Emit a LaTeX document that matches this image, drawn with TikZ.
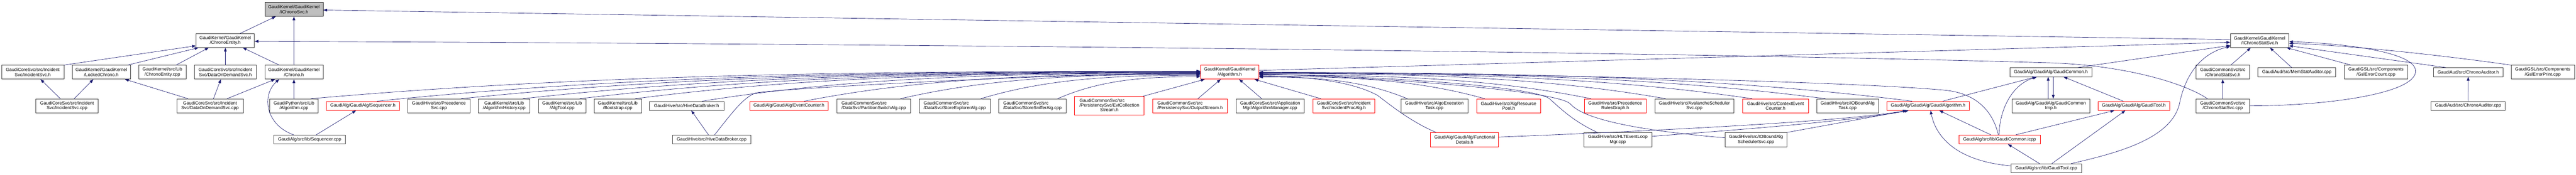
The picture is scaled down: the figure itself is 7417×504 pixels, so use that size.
\documentclass[tikz,border=0pt]{standalone}
\usepackage{fontspec}
\setmainfont{Liberation Sans}
\usetikzlibrary{arrows.meta,calc}
\definecolor{edgeblue}{HTML}{191970}
\definecolor{boxgray}{HTML}{404040}
\definecolor{boxred}{HTML}{FF0000}
\definecolor{rootfill}{HTML}{BFBFBF}
\newcommand\gnfont{\fontsize{13}{14}\selectfont}
\newcommand\fanedge[2]{\draw[edge] let \p1=(#1), \p2=(#2) in (\p1) .. controls ({\x1+0.3*(\x2-\x1)},{\y1+0.85*(\y2-\y1)}) and ({\x2-0.4*(\x2-\x1)},\y2) .. (\p2);}
\tikzset{
  nbox/.style={draw=boxgray, line width=1pt, inner sep=0pt, align=center, font=\gnfont, text=black, fill=white},
  rbox/.style={nbox, draw=boxred},
  lbox/.style={nbox, align=left},
  two/.style={minimum height=40pt},
  one/.style={minimum height=26pt},
  edge/.style={draw=edgeblue, line width=1pt, -{Triangle[length=11pt,width=8pt]}},
}
\begin{document}
\begin{tikzpicture}[x=1pt,y=1pt]
\fill[white] (0,0) rectangle (7417,-504);
\useasboundingbox (0,0) rectangle (7417,-504);

% ---------- nodes ----------
\node[nbox,two,minimum width=179pt] (isvch) at (94.2,-208) {GaudiCoreSvc/src/Incident\\Svc/IncidentSvc.h};
\node[nbox,two,minimum width=167.5pt] (lockc) at (291.7,-208) {GaudiKernel/GaudiKernel\\/LockedChrono.h};
\node[nbox,two,minimum width=136pt] (cecpp) at (467.6,-208) {GaudiKernel/src/Lib\\/ChronoEntity.cpp};
\node[nbox,two,minimum width=179pt] (dodh) at (648.9,-208) {GaudiCoreSvc/src/Incident\\Svc/DataOnDemandSvc.h};
\node[nbox,two,minimum width=179pt] (isvcpp) at (193,-305) {GaudiCoreSvc/src/Incident\\Svc/IncidentSvc.cpp};
\node[nbox,two,minimum width=191pt] (dodcpp) at (604.6,-305) {GaudiCoreSvc/src/Incident\\Svc/DataOnDemandSvc.cpp};
\node[nbox,two,minimum width=168pt] (ceh) at (648.5,-117) {GaudiKernel/GaudiKernel\\/ChronoEntity.h};
\node[nbox,two,minimum width=168pt,draw=black,fill=rootfill] (icsvc) at (846.3,-27) {GaudiKernel/GaudiKernel\\/IChronoSvc.h};
\node[nbox,two,minimum width=168pt] (chrono) at (846.3,-208) {GaudiKernel/GaudiKernel\\/Chrono.h};
\node[nbox,two,minimum width=140pt] (pyalg) at (846.3,-305) {GaudiPython/src/Lib\\/Algorithm.cpp};
\node[rbox,one,minimum width=209.5pt] (seqh) at (1044.8,-305) {GaudiAlg/GaudiAlg/Sequencer.h};
\node[nbox,one,minimum width=205.5pt] (seqcpp) at (891.6,-402) {GaudiAlg/src/lib/Sequencer.cpp};
\node[nbox,two,minimum width=179pt] (precsvc) at (1263.6,-305) {GaudiHive/src/Precedence\\Svc.cpp};
\node[nbox,two,minimum width=148pt] (alghist) at (1451.6,-305) {GaudiKernel/src/Lib\\/AlgorithmHistory.cpp};
\node[nbox,two,minimum width=136.4pt] (algtool) at (1618.4,-305) {GaudiKernel/src/Lib\\/AlgTool.cpp};
\node[nbox,two,minimum width=136.4pt] (bootstrap) at (1778.5,-305) {GaudiKernel/src/Lib\\/Bootstrap.cpp};
\node[nbox,one,minimum width=214.2pt] (hdbh) at (1976.9,-305) {GaudiHive/src/HiveDataBroker.h};
\node[nbox,one,minimum width=226.5pt] (hdbcpp) at (2049,-402) {GaudiHive/src/HiveDataBroker.cpp};
\node[rbox,one,minimum width=226.5pt] (evcnt) at (2271.6,-305) {GaudiAlg/GaudiAlg/EventCounter.h};
\node[lbox,two,minimum width=213pt] (partsw) at (2515.8,-305) {GaudiCommonSvc/src\\/DataSvc/PartitionSwitchAlg.cpp};
\node[lbox,two,minimum width=204pt] (storeexp) at (2749,-305) {GaudiCommonSvc/src\\/DataSvc/StoreExplorerAlg.cpp};
\node[lbox,two,minimum width=195pt] (storesnf) at (2972.6,-305) {GaudiCommonSvc/src\\/DataSvc/StoreSnifferAlg.cpp};
\node[rbox,minimum height=54pt,minimum width=200.3pt] (evtcoll) at (3194.1,-305) {\begin{tabular}{@{}l@{}}GaudiCommonSvc/src\\/PersistencySvc/EvtCollection\\\multicolumn{1}{@{}c@{}}{Stream.h}\end{tabular}};
\node[rbox,two,align=left,minimum width=214.3pt] (outstr) at (3426.4,-305) {GaudiCommonSvc/src\\/PersistencySvc/OutputStream.h};
\node[rbox,two,minimum width=168pt] (alg) at (3540.8,-208) {GaudiKernel/GaudiKernel\\/Algorithm.h};
\node[nbox,two,minimum width=197pt] (algmgr) at (3656.9,-305) {GaudiCoreSvc/src/Application\\Mgr/AlgorithmManager.cpp};
\node[rbox,two,minimum width=178.3pt] (incproc) at (3869,-305) {GaudiCoreSvc/src/Incident\\Svc/IncidentProcAlg.h};
\node[nbox,two,minimum width=193.7pt] (algoexec) at (4130.1,-305) {GaudiHive/src/AlgoExecution\\Task.cpp};
\node[rbox,two,minimum width=184.4pt] (algres) at (4343.7,-305) {GaudiHive/src/AlgResource\\Pool.h};
\node[rbox,minimum height=41pt,minimum width=195.6pt] (funcdet) at (4216.9,-402.5) {GaudiAlg/GaudiAlg/Functional\\Details.h};
\node[rbox,two,minimum width=178.6pt] (precrg) at (4650.5,-305) {GaudiHive/src/Precedence\\RulesGraph.h};
\node[nbox,two,minimum width=227.5pt] (avalanche) at (4878.5,-305) {GaudiHive/src/AvalancheScheduler\\Svc.cpp};
\node[nbox,minimum height=41pt,minimum width=195.6pt] (hltelm) at (4658.2,-402.5) {GaudiHive/src/HLTEventLoop\\Mgr.cpp};
\node[rbox,two,minimum width=189.7pt] (ctxevc) at (5112,-305) {GaudiHive/src/ContextEvent\\Counter.h};
\node[nbox,two,minimum width=179pt] (iobtask) at (5319.7,-305) {GaudiHive/src/IOBoundAlg\\Task.cpp};
\node[rbox,one,minimum width=236.6pt] (gaudialgh) at (5551.6,-305) {GaudiAlg/GaudiAlg/GaudiAlgorithm.h};
\node[nbox,minimum height=41pt,minimum width=179pt] (iobsched) at (5056,-402.5) {GaudiHive/src/IOBoundAlg\\SchedulerSvc.cpp};
\node[nbox,one,minimum width=235.2pt] (gcomh) at (5904.9,-208) {GaudiAlg/GaudiAlg/GaudiCommon.h};
\node[nbox,two,minimum width=223.3pt] (gcomimp) at (5904.9,-305) {GaudiAlg/GaudiAlg/GaudiCommon\\Imp.h};
\node[rbox,one,minimum width=207pt] (gtoolh) at (6143.8,-305) {GaudiAlg/GaudiAlg/GaudiTool.h};
\node[rbox,one,minimum width=234pt] (gcomicpp) at (5757.3,-402) {GaudiAlg/src/lib/GaudiCommon.icpp};
\node[nbox,one,minimum width=202.3pt] (gtoolcpp) at (5891.7,-485) {GaudiAlg/src/lib/GaudiTool.cpp};
\node[nbox,two,minimum width=168.4pt] (icssvc) at (6506.1,-117) {GaudiKernel/GaudiKernel\\/IChronoStatSvc.h};
\node[nbox,two,minimum width=155pt] (cssvch) at (6399.8,-208) {GaudiCommonSvc/src\\/ChronoStatSvc.h};
\node[nbox,one,minimum width=223.7pt] (memstat) at (6612.9,-208) {GaudiAud/src/MemStatAuditor.cpp};
\node[nbox,two,minimum width=183.4pt] (gslcnt) at (6840.9,-208) {GaudiGSL/src/Components\\/GslErrorCount.cpp};
\node[nbox,two,minimum width=155pt] (cssvccpp) at (6399.8,-305) {GaudiCommonSvc/src\\/ChronoStatSvc.cpp};
\node[nbox,one,minimum width=199.2pt] (chaudh) at (7106.5,-208) {GaudiAud/src/ChronoAuditor.h};
\node[nbox,one,minimum width=213.8pt] (chaudcpp) at (7106.3,-305) {GaudiAud/src/ChronoAuditor.cpp};
\node[nbox,two,minimum width=182.6pt] (gslprint) at (7321.1,-208) {GaudiGSL/src/Components\\/GslErrorPrint.cpp};

% ---------- left cluster ----------
\draw[edge] (isvch.north east) -- ([yshift=-15pt]ceh.west);
\draw[edge] ([xshift=76pt]lockc.north) -- ([xshift=-77pt]ceh.south);
\draw[edge] ([xshift=39.5pt]cecpp.north) -- ([xshift=-47.7pt]ceh.south);
\draw[edge] ([xshift=42.6pt]ceh.north) -- ([xshift=-52.4pt]icsvc.south);
\draw[edge] (dodh.north) -- (dodh.north |- ceh.south);
\draw[edge] ([xshift=-42.5pt]chrono.north) -- ([xshift=50.5pt]ceh.south);
\draw[edge] (chrono.north) -- (icsvc.south);
\draw[edge] ([xshift=-19pt]isvcpp.north) -- ([xshift=22.4pt]isvch.south);
\draw[edge] ([xshift=20.4pt]isvcpp.north) -- ([xshift=-22.9pt]lockc.south);
\draw[edge] ([xshift=-63pt]dodcpp.north) -- ([xshift=68pt]lockc.south);
\draw[edge] ([xshift=10pt]dodcpp.north) -- ([xshift=-13pt]dodh.south);
\draw[edge] ([xshift=49pt]dodcpp.north) -- ([xshift=-54.4pt]chrono.south);
\draw[edge] (pyalg.north) -- (chrono.south);
\draw[edge] ([xshift=-46.3pt]seqcpp.north) .. controls (765,-360) and (752,-275) .. ([xshift=-42.5pt]chrono.south);
\draw[edge] ([xshift=18.9pt]seqcpp.north) -- ([xshift=-19.7pt]seqh.south);
\draw[edge] ([xshift=-9.2pt]hdbcpp.north) -- ([xshift=13.5pt]hdbh.south);

% ---------- long top edges ----------
\draw[edge] ([yshift=3pt]icssvc.west) -- ([yshift=-2pt]icsvc.east);
\draw[edge] ([xshift=-44pt]cssvccpp.north) .. controls (6290,-240) and (6120,-188) .. (5900,-181) .. controls (5000,-155) and (3000,-128) .. ([yshift=-2pt]ceh.east);

% ---------- fan into Algorithm.h (left) ----------
\fanedge{[xshift=48.4pt]pyalg.north}{[yshift=3pt]alg.west}
\fanedge{[xshift=41.2pt]seqh.north}{[yshift=2pt]alg.west}
\fanedge{[xshift=63.4pt]precsvc.north}{[yshift=1pt]alg.west}
\fanedge{[xshift=53.4pt]alghist.north}{alg.west}
\fanedge{[xshift=50.6pt]algtool.north}{[yshift=-1pt]alg.west}
\fanedge{[xshift=50.5pt]bootstrap.north}{[yshift=-2pt]alg.west}
\fanedge{[xshift=45pt]hdbh.north}{[yshift=-3pt]alg.west}
\draw[edge] ([xshift=8.6pt]hdbcpp.north) .. controls (2110,-322) and (2140,-282) .. (2175,-268) .. controls (2210,-258) and (3000,-212) .. ([yshift=-4pt]alg.west);
\fanedge{[xshift=44.4pt]evcnt.north}{[yshift=-5pt]alg.west}
\fanedge{[xshift=76.7pt]partsw.north}{[yshift=-6pt]alg.west}
\fanedge{[xshift=75pt]storeexp.north}{[yshift=-9pt]alg.west}
\fanedge{[xshift=72.4pt]storesnf.north}{[yshift=-13pt]alg.west}
\draw[edge] ([xshift=-4pt]evtcoll.north east) -- ([xshift=-72pt]alg.south);
\draw[edge] ([xshift=22.5pt]outstr.north) -- ([xshift=-26pt]alg.south);
\draw[edge] ([xshift=-24pt]algmgr.north) -- ([xshift=27pt]alg.south);
\draw[edge] ([xshift=-66pt]incproc.north) -- ([xshift=71pt]alg.south);

% ---------- fan into Algorithm.h (right) ----------
\fanedge{[xshift=-78pt]algoexec.north}{[yshift=-14pt]alg.east}
\fanedge{[xshift=-68.7pt]algres.north}{[yshift=-12pt]alg.east}
\draw[edge] ([xshift=-82pt]funcdet.north) .. controls (4060,-350) and (4000,-300) .. (3965,-274) .. controls (3900,-240) and (3800,-222) .. ([yshift=-10pt]alg.east);
\fanedge{[xshift=-69.5pt]precrg.north}{[yshift=-8pt]alg.east}
\draw[edge] ([xshift=-59pt]hltelm.north) .. controls (4530,-350) and (4490,-310) .. (4462,-285) .. controls (4420,-250) and (4000,-220) .. ([yshift=-6pt]alg.east);
\draw[edge] ([yshift=5.5pt]iobsched.west) .. controls (4760,-380) and (4565,-350) .. (4522,-300) .. controls (4490,-262) and (4000,-224) .. ([yshift=-5pt]alg.east);
\fanedge{[xshift=-82.5pt]avalanche.north}{[yshift=-4pt]alg.east}
\fanedge{[xshift=-67pt]ctxevc.north}{[yshift=-3pt]alg.east}
\fanedge{[xshift=-63.7pt]iobtask.north}{[yshift=-2pt]alg.east}
\fanedge{[xshift=-46.6pt]gaudialgh.north}{[yshift=-1pt]alg.east}
\draw[edge] ([xshift=-3.6pt]gcomicpp.north) .. controls (5740,-330) and (5700,-270) .. (5600,-260) .. controls (5300,-232) and (4200,-210) .. (alg.east);

% ---------- to IChronoStatSvc.h ----------
\draw[edge] ([yshift=5pt]alg.east) -- ([yshift=-5pt]icssvc.west);
\draw[edge] ([xshift=78pt]gcomh.north) -- ([yshift=-14pt]icssvc.west);
\draw[edge] ([xshift=71.5pt]gtoolcpp.north) .. controls (6100,-440) and (6250,-400) .. (6275,-300) .. controls (6295,-200) and (6350,-150) .. ([yshift=-17pt]icssvc.west);
\draw[edge] ([xshift=23.3pt]cssvch.north) -- ([xshift=-25.7pt]icssvc.south);
\draw[edge] ([xshift=-14.7pt]memstat.north) -- ([xshift=29.6pt]icssvc.south);
\draw[edge] ([xshift=-72pt]gslcnt.north) -- ([xshift=-7pt]icssvc.south east);
\draw[edge] (cssvccpp.north) -- (cssvch.south);
\draw[edge] (cssvccpp.east) .. controls (6700,-305) and (6950,-270) .. (6955,-207) .. controls (6960,-150) and (6750,-125) .. ([yshift=-3pt]icssvc.east);
\draw[edge] ([xshift=-64.5pt]chaudh.north) -- ([yshift=-15pt]icssvc.east);
\draw[edge] (gslprint.north west) .. controls (7000,-155) and (6750,-130) .. ([yshift=-8pt]icssvc.east);
\draw[edge] (chaudcpp.north) -- (chaudh.south);

% ---------- GaudiAlg cluster ----------
\draw[edge] ([xshift=42pt]gaudialgh.north) -- ([xshift=-42.5pt]gcomh.south);
\draw[edge] ([xshift=-1.6pt]gcomicpp.north) .. controls (5757,-320) and (5790,-245) .. ([xshift=-40pt]gcomh.south);
\draw[edge] ([xshift=-7.7pt]gcomimp.north) -- ([xshift=-7.7pt]gcomh.south);
\draw[edge] ([xshift=6.9pt]gcomh.south) -- ([xshift=6.9pt]gcomimp.north);
\draw[edge] ([xshift=-30.4pt]gtoolh.north) -- ([xshift=36.5pt]gcomh.south);
\draw[edge] ([xshift=-25.3pt]gcomicpp.north) -- ([xshift=32pt]gaudialgh.south);
\draw[edge] ([xshift=46.6pt]gcomicpp.north) -- ([xshift=-56pt]gtoolh.south);
\draw[edge] ([xshift=-19.4pt]gtoolcpp.north) -- ([xshift=24pt]gcomicpp.south);
\draw[edge] ([xshift=16pt]gtoolcpp.north) -- ([xshift=-24.5pt]gtoolh.south);
\draw[edge] ([yshift=7pt]gtoolcpp.west) .. controls (5640,-465) and (5575,-400) .. ([xshift=7pt]gaudialgh.south);
\draw[edge] ([yshift=7.5pt]funcdet.east) .. controls (4700,-380) and (5300,-352) .. ([xshift=-62pt]gaudialgh.south);
\draw[edge] ([yshift=9.5pt]hltelm.east) .. controls (4850,-385) and (5300,-355) .. ([xshift=-56pt]gaudialgh.south);
\draw[edge] (iobsched.north east) -- ([xshift=-60pt]gaudialgh.south);
\end{tikzpicture}
\end{document}
